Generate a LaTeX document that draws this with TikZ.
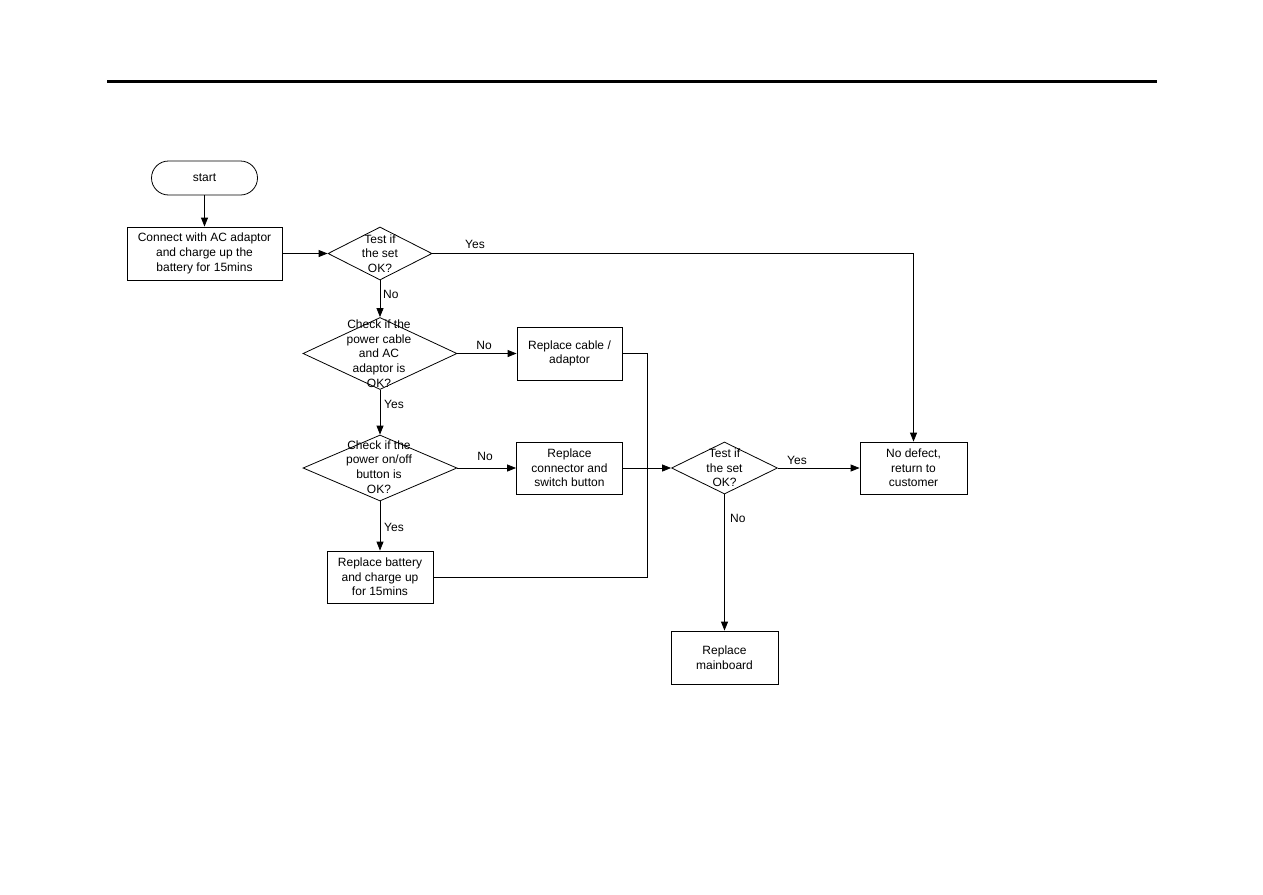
\documentclass[tikz,border=0pt]{standalone}
\usepackage{fontspec}
\setmainfont{Liberation Sans}
\usetikzlibrary{shapes.geometric,arrows.meta}
\begin{document}
\begin{tikzpicture}[x=1pt,y=-1pt,
  every node/.style={font=\fontsize{12}{14.7}\selectfont},
  box/.style={draw,line width=0.8pt,inner sep=0pt,align=center},
  dia/.style={draw,diamond,inner sep=0pt,line width=0.8pt},
  txt/.style={align=center,inner sep=0pt},
  lbl/.style={inner sep=0pt},
  arr/.style={-{Triangle[length=9pt,width=7pt]},line width=0.8pt},
  ln/.style={line width=0.8pt}]
\useasboundingbox (0,0) rectangle (1263,894);
\fill[white] (0,0) rectangle (1263,894);
\draw[line width=3pt] (107,81) -- (1157,81);

\node[box,rounded corners=17pt,minimum width=106pt,minimum height=34pt] (start) at (204.5,178) {start};
\node[box,minimum width=155pt,minimum height=53pt] (b1) at (204.5,253.5) {Connect with AC adaptor\\and charge up the\\battery for 15mins};

\node[dia,minimum width=104pt,minimum height=53pt] (d1) at (380,253.5) {};
\node[txt] (t1) at (380,253.5) {Test if\\the set\\OK?};

\node[dia,minimum width=154pt,minimum height=72pt] (d2) at (380,353.5) {};
\node[txt] (t2) at (379,353.5) {Check if the\\power cable\\and AC\\adaptor is\\OK?};

\node[box,minimum width=105pt,minimum height=53pt] (b2) at (569.5,353.5) {Replace cable /\\adaptor};

\node[dia,minimum width=154pt,minimum height=66pt] (d3) at (380,468) {};
\node[txt] (t3) at (379,467) {Check if the\\power on/off\\button is\\OK?};

\node[box,minimum width=106pt,minimum height=52pt] (b3) at (569.5,468) {Replace\\connector and\\switch button};

\node[box,minimum width=106pt,minimum height=52pt] (b4) at (380,577) {Replace battery\\and charge up\\for 15mins};

\node[dia,minimum width=106pt,minimum height=52pt] (d4) at (724.5,468) {};
\node[txt] (t4) at (724.5,468) {Test if\\the set\\OK?};

\node[box,minimum width=107pt,minimum height=52pt] (b5) at (913.5,468) {No defect,\\return to\\customer};

\node[box,minimum width=107pt,minimum height=53pt] (b6) at (724.5,657.5) {Replace\\mainboard};

\coordinate (j) at (647,468);

\draw[arr] (start) -- (b1);
\draw[arr] (b1.east) -- (d1.west);
\draw[arr] (d1.east) -| (b5.north);
\draw[arr] (d1.south) -- (d2.north);
\draw[arr] (d2.east) -- (b2.west);
\draw[arr] (d2.south) -- (d3.north);
\draw[arr] (d3.east) -- (b3.west);
\draw[arr] (d3.south) -- (b4.north);
\draw[ln] (b2.east) -| (j);
\draw[ln] (b4.east) -| (j);
\draw[arr] (b3.east) -- (d4.west);
\draw[arr] (d4.east) -- (b5.west);
\draw[arr] (d4.south) -- (b6.north);

\node[lbl] (l1) at (475,244) {Yes};
\node[lbl,anchor=west] (l2) at (383,294) {No};
\node[lbl] (l3) at (484,345) {No};
\node[lbl,anchor=west] (l4) at (384,404) {Yes};
\node[lbl] (l5) at (485,456) {No};
\node[lbl,anchor=west] (l6) at (384,527) {Yes};
\node[lbl] (l7) at (797,460) {Yes};
\node[lbl,anchor=west] (l8) at (730,518) {No};
\end{tikzpicture}
\end{document}
